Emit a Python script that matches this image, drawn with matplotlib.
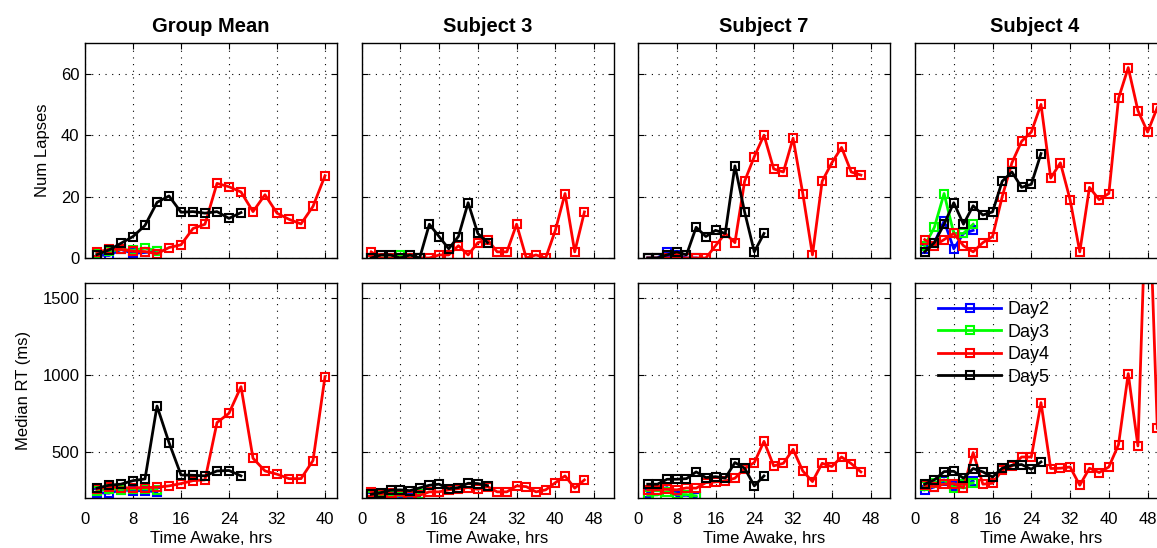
import matplotlib
matplotlib.use("Agg")
import matplotlib.pyplot as plt

plt.rcParams['font.family'] = ['Liberation Sans', 'DejaVu Sans']

# ---------------- data ----------------
panel_titles = ["Group Mean", "Subject 3", "Subject 7", "Subject 4"]
day_labels = ["Day2", "Day3", "Day4", "Day5"]
day_colors = ["#0000ff", "#00ff00", "#ff0000", "#000000"]

hours_short = [2, 4, 6, 8, 10, 12]
hours_d5 = [2, 4, 6, 8, 10, 12, 14, 16, 18, 20, 22, 24, 26]
hours_gm_d4 = [2, 4, 6, 8, 10, 12, 14, 16, 18, 20, 22, 24, 26, 28, 30, 32, 34, 36, 38, 40]
hours_d4 = [2, 4, 6, 8, 10, 12, 14, 16, 18, 20, 22, 24, 26, 28, 30, 32, 34, 36, 38, 40,
            42, 44, 46]
hours_s4_d4 = [2, 4, 6, 8, 10, 12, 14, 16, 18, 20, 22, 24, 26, 28, 30, 32, 34, 36, 38, 40,
               42, 44, 46, 48, 50]

# group mean
gm_lapses_d2 = [1.0, 0.8, 2.8, 1.5, 1.8, 2.2]
gm_lapses_d3 = [1.5, 2.2, 2.8, 2.5, 3.2, 2.4]
gm_lapses_d4 = [1.8, 2.9, 2.8, 2.2, 2.1, 1.4, 3.4, 4.3, 9.6, 11.0, 24.3, 23.2, 21.5, 15.1,
                20.6, 14.6, 12.6, 11.1, 16.8, 26.8]
gm_lapses_d5 = [1.1, 2.6, 4.8, 7.0, 10.6, 18.1, 20.2, 14.9, 15.1, 14.6, 15.1, 12.9, 14.8]
gm_rt_d2 = [235, 231, 253, 248, 248, 240]
gm_rt_d3 = [246, 261, 255, 259, 259, 255]
gm_rt_d4 = [257, 274, 266, 266, 268, 270, 279, 294, 313, 318, 691, 752, 925, 459, 376, 355,
            326, 326, 444, 990]
gm_rt_d5 = [264, 283, 290, 313, 324, 799, 561, 350, 348, 344, 376, 379, 344]

# subject 3
s3_lapses_d2 = [0, 0, 0, 0, 0, 0]
s3_lapses_d3 = [0, 0, 0, 1, 0, 0]
s3_lapses_d4 = [2, 0, 0, 0, 0, 0, 0, 1, 1, 4, 1, 5, 6, 2, 2, 11, 0, 1, 0, 9, 21, 2, 15]
s3_lapses_d5 = [0, 1, 1, 0, 1, 0, 11, 7, 3, 7, 18, 8, 5]
s3_rt_d2 = [205, 205, 214, 209, 209, 212]
s3_rt_d3 = [212, 215, 220, 215, 213, 225]
s3_rt_d4 = [240, 224, 231, 218, 214, 218, 240, 240, 253, 261, 268, 257, 274, 240, 240, 279,
            274, 240, 253, 300, 344, 264, 318]
s3_rt_d5 = [224, 235, 251, 253, 248, 266, 283, 290, 261, 268, 296, 294, 281]

# subject 7
s7_lapses_d2 = [0, 0, 2, 1, 0, 0]
s7_lapses_d3 = [0, 0, 0, 0, 0, 0]
s7_lapses_d4 = [0, 0, 0, 0, 0, 0, 0, 4, 8, 5, 25, 33, 40, 29, 28, 39, 21, 1, 25, 31, 36, 28, 27]
s7_lapses_d5 = [0, 0, 1, 2, 1, 10, 7, 9, 8, 30, 15, 2, 8]
s7_rt_d2 = [235, 253, 268, 214, 218, 205]
s7_rt_d3 = [218, 220, 242, 224, 222, 214]
s7_rt_d4 = [253, 253, 257, 253, 266, 264, 300, 305, 311, 329, 392, 431, 569, 409, 426, 517,
            376, 307, 426, 405, 467, 424, 370]
s7_rt_d5 = [290, 290, 322, 322, 326, 370, 333, 339, 329, 431, 394, 279, 344]

# subject 4
s4_lapses_d2 = [3, 5, 12, 3, 8, 9]
s4_lapses_d3 = [4, 10, 21, 8, 8, 11]
s4_lapses_d4 = [6, 4, 6, 8, 4, 2, 5, 7, 20, 31, 38, 41, 50, 26, 31, 19, 2, 23, 19, 21, 52, 62,
                48, 41, 49]
s4_lapses_d5 = [2, 5, 11, 18, 11, 17, 14, 15, 25, 28, 23, 24, 34]
s4_rt_d2 = [253, 272, 309, 279, 290, 311]
s4_rt_d3 = [279, 300, 318, 268, 290, 298]
s4_rt_d4 = [283, 274, 290, 294, 266, 496, 290, 296, 381, 409, 467, 467, 821, 392, 394, 402,
            283, 394, 366, 402, 548, 1010, 539, 2500, 654]
s4_rt_d5 = [290, 318, 372, 374, 329, 392, 370, 337, 394, 413, 418, 387, 435]

# ---------------- assemble ----------------
lapses = [
    [(hours_short, gm_lapses_d2), (hours_short, gm_lapses_d3), (hours_gm_d4, gm_lapses_d4), (hours_d5, gm_lapses_d5)],
    [(hours_short, s3_lapses_d2), (hours_short, s3_lapses_d3), (hours_d4, s3_lapses_d4), (hours_d5, s3_lapses_d5)],
    [(hours_short, s7_lapses_d2), (hours_short, s7_lapses_d3), (hours_d4, s7_lapses_d4), (hours_d5, s7_lapses_d5)],
    [(hours_short, s4_lapses_d2), (hours_short, s4_lapses_d3), (hours_s4_d4, s4_lapses_d4), (hours_d5, s4_lapses_d5)],
]
rts = [
    [(hours_short, gm_rt_d2), (hours_short, gm_rt_d3), (hours_gm_d4, gm_rt_d4), (hours_d5, gm_rt_d5)],
    [(hours_short, s3_rt_d2), (hours_short, s3_rt_d3), (hours_d4, s3_rt_d4), (hours_d5, s3_rt_d5)],
    [(hours_short, s7_rt_d2), (hours_short, s7_rt_d3), (hours_d4, s7_rt_d4), (hours_d5, s7_rt_d5)],
    [(hours_short, s4_rt_d2), (hours_short, s4_rt_d3), (hours_s4_d4, s4_rt_d4), (hours_d5, s4_rt_d5)],
]

W, H = 1157, 548
fig = plt.figure(figsize=(W / 100, H / 100), dpi=100)

lefts = [85, 361.5, 638, 915]
ax_w = 252
ax_h = 215
tops = [43, 283]
# last panel runs past the right edge of the figure; its title sits a bit left
title_x = [0.5, 0.5, 0.5, 0.475]


def style_axes(ax):
    ax.tick_params(direction='in', top=True, right=True, length=4, width=0.8,
                   labelsize=12)
    ax.tick_params(axis='x', pad=10)
    ax.tick_params(axis='y', pad=4)
    for s in ax.spines.values():
        s.set_linewidth(1.0)
    ax.grid(True, linestyle=(0, (1, 5)), color='black', linewidth=0.8)
    ax.set_axisbelow(True)


for col in range(4):
    for row in range(2):
        l = lefts[col] / W
        b = 1 - (tops[row] + ax_h) / H
        ax = fig.add_axes([l, b, ax_w / W, ax_h / H])
        style_axes(ax)
        series = lapses[col] if row == 0 else rts[col]
        for (x, y), c, lab in zip(series, day_colors, day_labels):
            ax.plot(x, y, color=c, lw=2.0, marker='s', ms=6, mfc='none', mew=1.5,
                    label=lab)
        if col == 0:
            ax.set_xlim(0, 42)
            ax.set_xticks([0, 8, 16, 24, 32, 40])
        else:
            ax.set_xlim(0, 52)
            ax.set_xticks([0, 8, 16, 24, 32, 40, 48])
        if row == 0:
            ax.set_ylim(0, 70)
            ax.set_yticks([0, 20, 40, 60])
            ax.set_xticklabels([])
            ax.set_title(panel_titles[col], fontsize=14.5, fontweight='bold', pad=8,
                         x=title_x[col])
            if col == 0:
                ax.set_ylabel("Num Lapses", fontsize=12, labelpad=8)
        else:
            ax.set_ylim(200, 1600)
            ax.set_yticks([500, 1000, 1500])
            ax.set_xlabel("Time Awake, hrs", fontsize=12, labelpad=3)
            if col == 0:
                ax.set_ylabel("Median RT (ms)", fontsize=12, labelpad=8)
        if col != 0:
            ax.set_yticklabels([])
        if col == 3 and row == 1:
            ax.legend(loc='upper left', bbox_to_anchor=(0.091, 0.915), frameon=False,
                      fontsize=13, handlelength=3.5, handletextpad=0.35,
                      labelspacing=0.3, borderpad=0, borderaxespad=0, numpoints=1)

fig.savefig("out.png", dpi=100)
